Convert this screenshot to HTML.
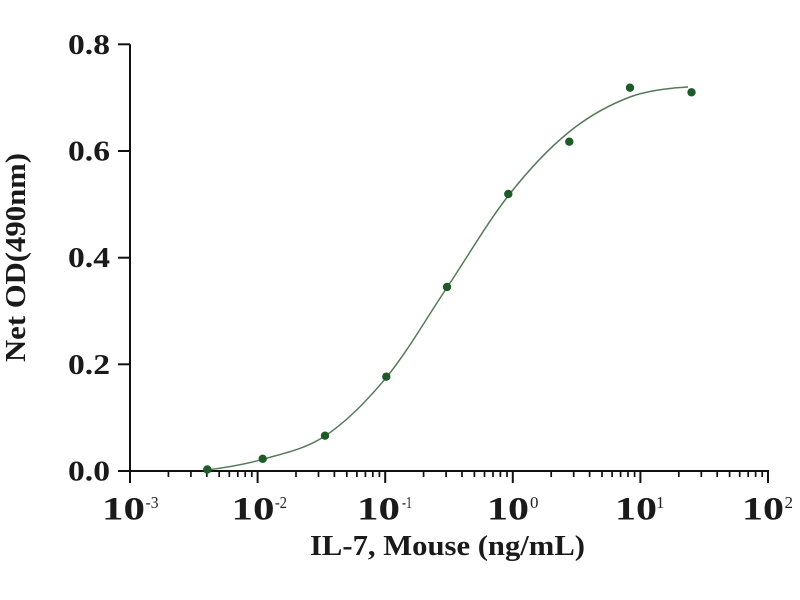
<!DOCTYPE html>
<html>
<head>
<meta charset="utf-8">
<style>
  html, body { margin: 0; padding: 0; background: #ffffff; }
  svg { display: block; }
  text { font-family: "Liberation Serif", "DejaVu Serif", serif; font-weight: bold; fill: #1a1a1a; }
  .sup { font-weight: normal; fill: #222; }
</style>
</head>
<body>
<svg width="800" height="600" viewBox="0 0 800 600" xmlns="http://www.w3.org/2000/svg">
  <rect width="800" height="600" fill="#ffffff"/>

  <!-- Y axis -->
  <g stroke="#111" stroke-width="2" fill="none">
    <line x1="130" y1="44.3" x2="130" y2="483"/>
    <line x1="118" y1="44.3" x2="130" y2="44.3"/>
    <line x1="118" y1="151" x2="130" y2="151"/>
    <line x1="118" y1="257.7" x2="130" y2="257.7"/>
    <line x1="118" y1="364.3" x2="130" y2="364.3"/>
    <line x1="118" y1="471" x2="130" y2="471"/>
    <!-- X axis -->
    <line x1="129" y1="471" x2="769" y2="471"/>
    <line x1="257.6" y1="471" x2="257.6" y2="483"/>
    <line x1="385.2" y1="471" x2="385.2" y2="483"/>
    <line x1="512.8" y1="471" x2="512.8" y2="483"/>
    <line x1="640.4" y1="471" x2="640.4" y2="483"/>
    <line x1="768" y1="471" x2="768" y2="483"/>
  </g>
  <g stroke="#111" stroke-width="1.7" fill="none">
    <path d="M168.4 471v6M190.9 471v6M206.8 471v6M219.2 471v6M229.3 471v6M237.8 471v6M245.2 471v6M251.8 471v6
             M296.0 471v6M318.5 471v6M334.4 471v6M346.8 471v6M356.9 471v6M365.4 471v6M372.8 471v6M379.4 471v6
             M423.6 471v6M446.1 471v6M462.0 471v6M474.4 471v6M484.5 471v6M493.0 471v6M500.4 471v6M507.0 471v6
             M551.2 471v6M573.7 471v6M589.6 471v6M602.0 471v6M612.1 471v6M620.6 471v6M628.0 471v6M634.6 471v6
             M678.8 471v6M701.3 471v6M717.2 471v6M729.6 471v6M739.7 471v6M748.2 471v6M755.6 471v6M762.2 471v6"/>
  </g>

  <!-- Y tick labels -->
  <g font-size="28">
    <text x="68" y="53.8" textLength="42" lengthAdjust="spacingAndGlyphs">0.8</text>
    <text x="68" y="160.5" textLength="42" lengthAdjust="spacingAndGlyphs">0.6</text>
    <text x="68" y="267.2" textLength="42" lengthAdjust="spacingAndGlyphs">0.4</text>
    <text x="68" y="373.8" textLength="42" lengthAdjust="spacingAndGlyphs">0.2</text>
    <text x="68" y="480.5" textLength="42" lengthAdjust="spacingAndGlyphs">0.0</text>
  </g>

  <!-- X tick labels -->
  <g font-size="33">
    <text x="102" y="519.5" textLength="43" lengthAdjust="spacingAndGlyphs">10</text>
    <text x="231.5" y="519.5" textLength="43" lengthAdjust="spacingAndGlyphs">10</text>
    <text x="357" y="519.5" textLength="43" lengthAdjust="spacingAndGlyphs">10</text>
    <text x="487" y="519.5" textLength="42" lengthAdjust="spacingAndGlyphs">10</text>
    <text x="615" y="519.5" textLength="42" lengthAdjust="spacingAndGlyphs">10</text>
    <text x="742" y="519.5" textLength="42" lengthAdjust="spacingAndGlyphs">10</text>
  </g>
  <g font-size="17" class="sup">
    <text class="sup" x="145.5" y="508" textLength="13" lengthAdjust="spacingAndGlyphs">-3</text>
    <text class="sup" x="275" y="508" textLength="12" lengthAdjust="spacingAndGlyphs">-2</text>
    <text class="sup" x="402" y="508" textLength="10" lengthAdjust="spacingAndGlyphs">-1</text>
    <text class="sup" x="530" y="508">0</text>
    <text class="sup" x="656" y="508">1</text>
    <text class="sup" x="784.5" y="508">2</text>
  </g>

  <!-- Axis titles -->
  <text x="310" y="555" font-size="29" textLength="275" lengthAdjust="spacingAndGlyphs">IL-7, Mouse (ng/mL)</text>
  <text transform="translate(25,257.5) rotate(-90)" x="-104.5" y="0" font-size="29" textLength="209" lengthAdjust="spacingAndGlyphs">Net OD(490nm)</text>

  <!-- Fitted curve -->
  <path d="M207,470 C216.3,468.8 243.0,465.0 262.7,459.3
           C282.4,453.6 304.3,449.7 325,436
           C345.7,422.3 366.4,401.7 386.7,377
           C407.0,352.3 426.4,318.3 446.7,288
           C467.0,257.7 488.1,221.5 508.5,195.5
           C528.9,169.5 548.8,148.4 569,132
           C589.3,115.6 610.2,104.5 630,97
           C649.8,89.5 678,87.5 688,87"
        fill="none" stroke="#557a5a" stroke-width="1.5"/>

  <!-- Data points -->
  <g fill="#1f5b29">
    <circle cx="207.3" cy="469.5" r="4.2"/>
    <circle cx="262.7" cy="458.8" r="4.2"/>
    <circle cx="325" cy="435.7" r="4.2"/>
    <circle cx="386.3" cy="376.7" r="4.2"/>
    <circle cx="447" cy="287" r="4.2"/>
    <circle cx="508.3" cy="194" r="4.2"/>
    <circle cx="569.3" cy="141.7" r="4.2"/>
    <circle cx="630" cy="87.7" r="4.2"/>
    <circle cx="691.5" cy="92.3" r="4.2"/>
  </g>
</svg>
</body>
</html>
